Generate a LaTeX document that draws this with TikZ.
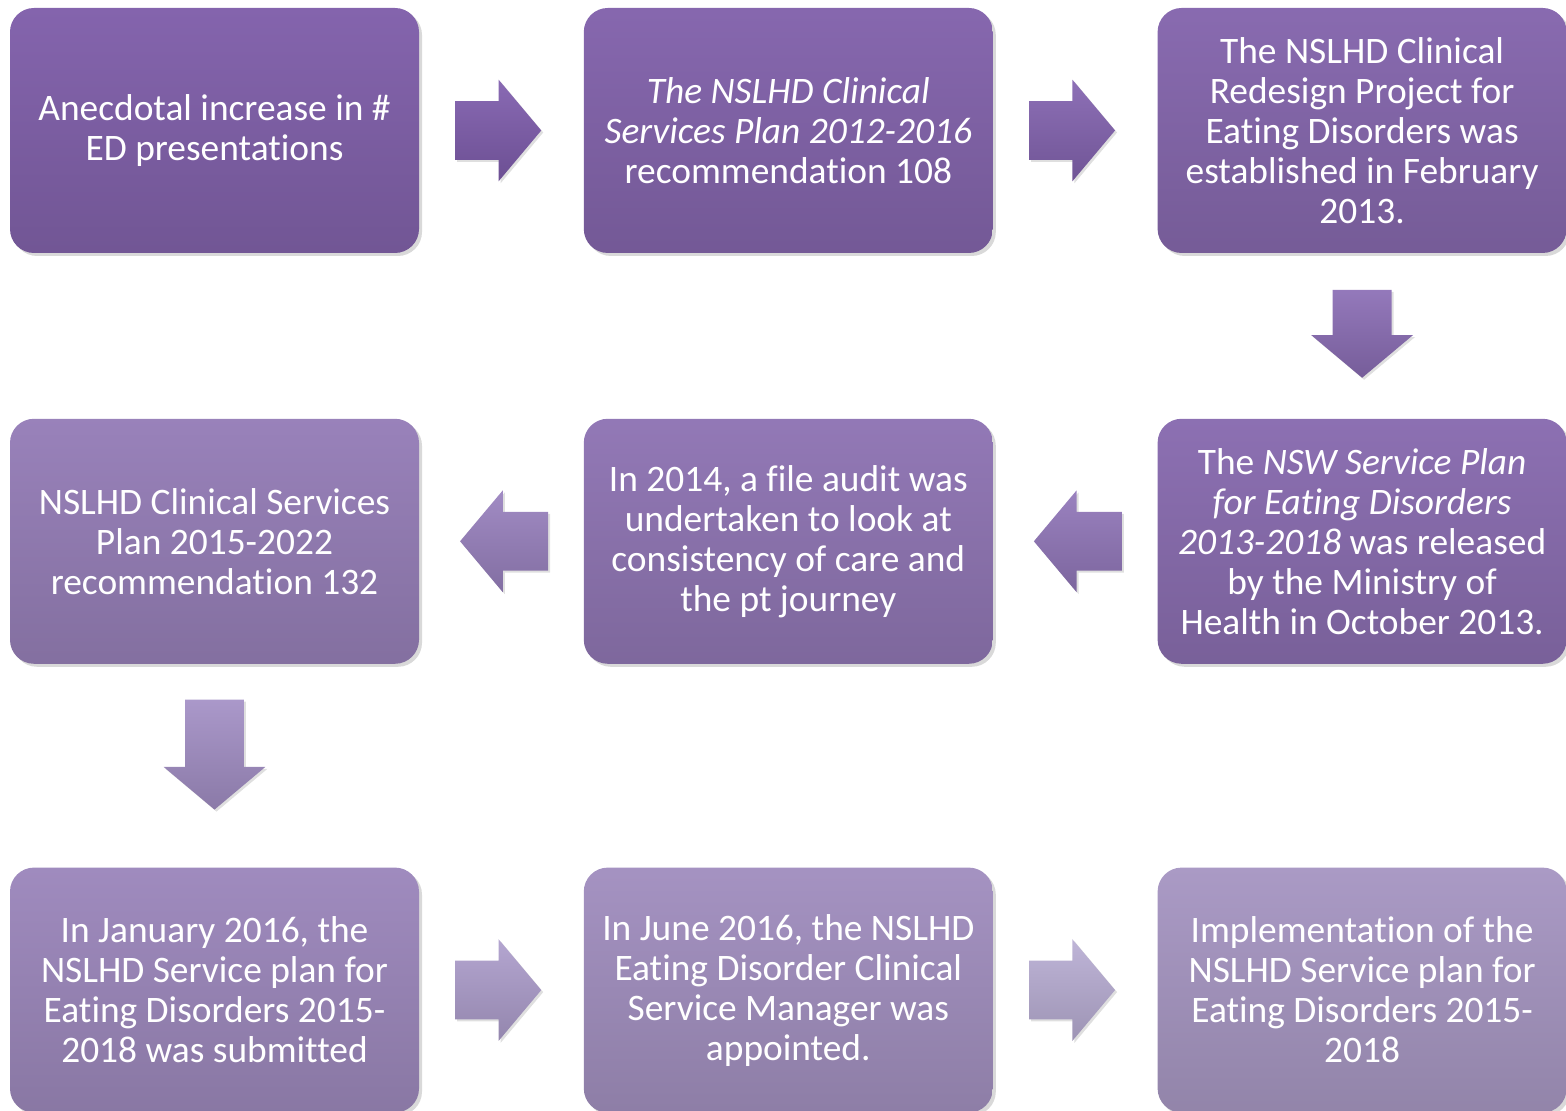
\documentclass[tikz,border=0pt]{standalone}
\usepackage{fontspec}
\setmainfont{Carlito}[Ligatures=CommonOff]
\usetikzlibrary{positioning,calc,shapes.arrows,shadows}

\definecolor{edDark}{HTML}{8464AD}
\definecolor{edLight}{HTML}{AA9AC5}
\definecolor{arDark}{HTML}{7F5DAD}
\definecolor{arLight}{HTML}{B9AED4}

\begin{document}
\begin{tikzpicture}[x=0.5pt, y=0.5pt, node distance=82pt,
  box/.style = {rounded corners=12pt, minimum width=204.5pt, minimum height=122.5pt,
    inner sep=0pt, align=center, text=white, font=\fontsize{18.7}{20}\selectfont,
    top color=edLight!#1!edDark, bottom color=edLight!#1!edDark!86!black,
    drop shadow={shadow xshift=1.5pt, shadow yshift=-1.5pt, opacity=0.3}},
  blockarrow/.style = {single arrow, single arrow head extend=10.75pt,
    single arrow tip angle=100,
    top color=arLight!#1!arDark!92!white, bottom color=arLight!#1!arDark!85!black,
    drop shadow={shadow xshift=1pt, shadow yshift=-1pt, opacity=0.25}},
  rarrow/.style = {blockarrow=#1, inner xsep=0pt, inner ysep=14.5pt, minimum height=43pt},
  larrow/.style = {blockarrow=#1, inner xsep=0pt, inner ysep=14.5pt, minimum height=44pt,
    shape border rotate=180},
  darrow/.style = {blockarrow=#1, inner xsep=14.5pt, inner ysep=0pt, minimum height=44pt,
    shape border rotate=270},
]
\useasboundingbox (0,0) rectangle (1566,1111);

% top row
\node[box=0] (b1) at (214.5,980.5) {Anecdotal increase in \#\\ED presentations};
\node[box=6] (b2) [right=of b1] {\textit{The NSLHD Clinical}\\\textit{Services Plan 2012-2016}\\recommendation 108};
\node[box=12] (b3) [right=of b2] {The NSLHD Clinical\\Redesign Project for\\Eating Disorders was\\established in February\\2013.};

% middle row
\node[box=22] (b4) [below=82.5pt of b3] {The \textit{NSW Service Plan}\\\textit{for Eating Disorders}\\\textit{2013-2018} was released\\by the Ministry of\\Health in October 2013.};
\node[box=38] (b5) [left=of b4] {In 2014, a file audit was\\undertaken to look at\\consistency of care and\\the pt journey};
\node[box=55] (b6) [left=of b5] {NSLHD Clinical Services\\Plan 2015-2022\\recommendation 132};

% bottom row
\node[box=72] (b7) [below=101.5pt of b6] {In January 2016, the\\NSLHD Service plan for\\Eating Disorders 2015-\\2018 was submitted};
\node[box=86] (b8) [right=of b7] {In June 2016, the NSLHD\\Eating Disorder Clinical\\Service Manager was\\appointed.};
\node[box=100] (b9) [right=of b8] {Implementation of the\\NSLHD Service plan for\\Eating Disorders 2015-\\2018};

% arrows
\node[rarrow=0, xshift=-7.75pt] (a1) at ($(b1.east)!0.5!(b2.west)$) {};
\node[rarrow=8, xshift=-7.75pt] (a2) at ($(b2.east)!0.5!(b3.west)$) {};
\node[darrow=20] (a3) [below=18pt of b3] {};
\node[larrow=32, xshift=7.5pt] (a4) at ($(b4.west)!0.5!(b5.east)$) {};
\node[larrow=45, xshift=7.5pt] (a5) at ($(b5.west)!0.5!(b6.east)$) {};
\node[darrow=62, minimum height=55pt] (a6) [below=17.5pt of b6] {};
\node[rarrow=80, xshift=-7.75pt] (a7) at ($(b7.east)!0.5!(b8.west)$) {};
\node[rarrow=100, xshift=-7.75pt] (a8) at ($(b8.east)!0.5!(b9.west)$) {};
\end{tikzpicture}
\end{document}
